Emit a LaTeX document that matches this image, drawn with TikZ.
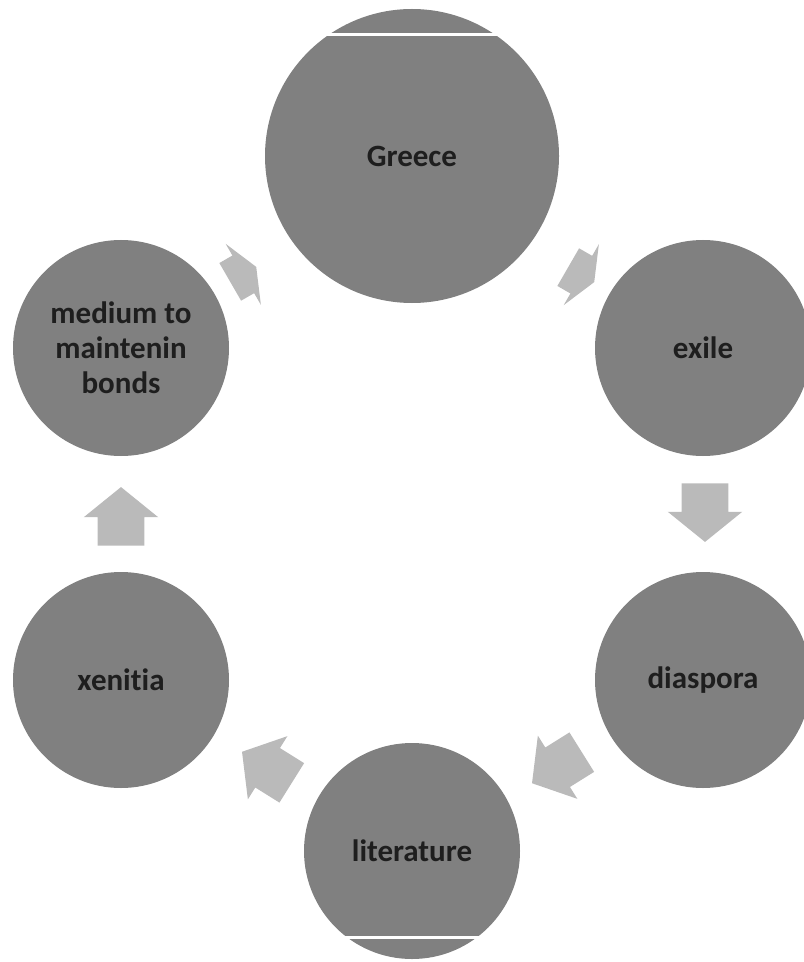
\documentclass[tikz,border=0pt]{standalone}
\usepackage{fontspec}
\setmainfont{Carlito}[Ligatures=NoCommon]
\usetikzlibrary{shapes.arrows}
\definecolor{discgray}{HTML}{808080}
\definecolor{arrowgray}{HTML}{BABABA}
\definecolor{labelink}{HTML}{1E1E1E}
\begin{document}
\begin{tikzpicture}[x=0.75pt,y=0.75pt,
  disc/.style={circle,fill=discgray,inner sep=0pt,minimum size=162pt,
    text=labelink,font=\fontsize{23.25}{26.25}\selectfont\bfseries,align=center},
  cyclearrow/.style={single arrow,fill=arrowgray,anchor=tail,inner xsep=0pt,inner ysep=17.25pt,
    minimum height=44pt,single arrow head extend=10.5pt,single arrow tip angle=102},
  stubarrow/.style={cyclearrow,inner ysep=16.1pt,minimum height=22.5pt,
    single arrow head extend=10.1pt,single arrow tip angle=134}]
  \useasboundingbox (0,0) rectangle (803,-962);
  \node[disc,minimum size=220.5pt] (greece) at (412,-156) {Greece};
  \node[disc] (exile) at (703,-348) {exile};
  \node[disc] (diaspora) at (703,-680) {diaspora};
  \node[disc] (literature) at (412,-851) {literature};
  \node[disc] (xenitia) at (121,-680) {xenitia};
  \node[disc] (medium) at (121,-348) {medium to\\maintenin\\bonds};
  \draw[white,line width=2.25pt] (322,-35) -- (502,-35);
  \draw[white,line width=2.25pt] (335,-937) -- (490,-937);
  \node[stubarrow,rotate=30] (toGreece) at (230,-282) {};
  \node[stubarrow,rotate=-30] (toExile) at (568,-267) {};
  \node[cyclearrow,rotate=-90] (toDiaspora) at (705,-483) {};
  \node[cyclearrow,rotate=212] (toLiterature) at (582,-752) {};
  \node[cyclearrow,rotate=148] (toXenitia) at (292,-783) {};
  \node[cyclearrow,rotate=90] (toMedium) at (121,-546) {};
\end{tikzpicture}
\end{document}
